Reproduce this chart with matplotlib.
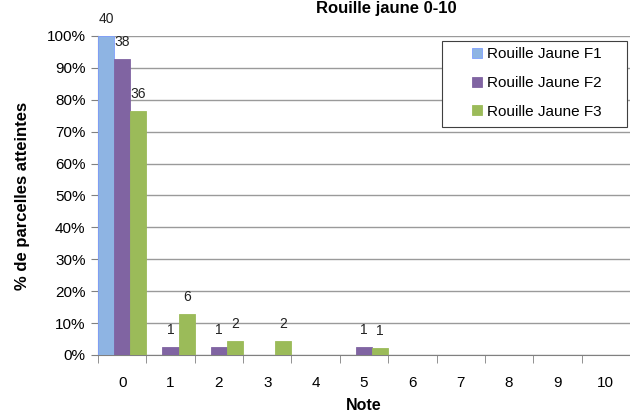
import matplotlib
matplotlib.use("Agg")
import matplotlib.pyplot as plt
from matplotlib.lines import Line2D
from matplotlib.patches import Rectangle
import numpy as np

plt.rcParams.update({
    "font.family": ["Liberation Sans", "DejaVu Sans"],
    "font.size": 10,
})

notes = [str(i) for i in range(11)]
series = ["Rouille Jaune F1", "Rouille Jaune F2", "Rouille Jaune F3"]
colors = ["#8EB4E3", "#8064A2", "#9BBB59"]

# percentage of plots per note, and the count labels shown above bars
pct_f1 = [100, 0, 0, 0, 0, 0, 0, 0, 0, 0, 0]
pct_f2 = [92.7, 2.4, 2.4, 0, 0, 2.4, 0, 0, 0, 0, 0]
pct_f3 = [76.6, 12.8, 4.3, 4.3, 0, 2.1, 0, 0, 0, 0, 0]
cnt_f1 = [40, 0, 0, 0, 0, 0, 0, 0, 0, 0, 0]
cnt_f2 = [38, 1, 1, 0, 0, 1, 0, 0, 0, 0, 0]
cnt_f3 = [36, 6, 2, 2, 0, 1, 0, 0, 0, 0, 0]

fig = plt.figure(figsize=(6.3, 4.16), dpi=100)
ax = fig.add_axes([98 / 630, 1 - 355 / 416, 532 / 630, 319 / 416])

x = np.arange(len(notes))
w = 1 / 3
edges = ["#7F9FFF", colors[1], colors[2]]
for i, (vals, cnts) in enumerate(zip([pct_f1, pct_f2, pct_f3], [cnt_f1, cnt_f2, cnt_f3])):
    xs = x - 0.5 + w * (i + 0.5)
    ax.bar(xs, vals, width=w, color=colors[i], zorder=3,
           edgecolor=edges[i], linewidth=0.6)
    for xi, v, c in zip(xs, vals, cnts):
        if c:
            ax.text(xi, v + 5.3, str(c), ha="center", va="center", fontsize=10,
                    color="#222222", clip_on=False)

ax.set_xlim(-0.5, 10.5)
ax.set_ylim(0, 100)
ax.set_yticks(np.arange(0, 101, 10))
ax.set_yticklabels([f"{t}%" for t in range(0, 101, 10)])
ax.yaxis.grid(True, color="#9a9a9a", lw=1.0, zorder=0)
ax.set_xticks(x)
ax.set_xticklabels(notes)
ax.set_xticks(np.arange(-0.5, 11, 1), minor=True)
ax.tick_params(axis="x", which="major", length=0, pad=15, labelsize=11)
ax.tick_params(axis="x", which="minor", length=6, color="#808080", direction="out")
ax.tick_params(axis="y", length=5, color="#808080", direction="out", labelsize=11, pad=4)
for s in ["top", "right"]:
    ax.spines[s].set_visible(False)
for s in ["left", "bottom"]:
    ax.spines[s].set_color("#808080")

ax.set_xlabel("Note", fontweight="bold", fontsize=11.5, labelpad=6)
ax.set_ylabel("% de parcelles atteintes", fontweight="bold", fontsize=12, labelpad=12)
fig.text(386 / 630, 1 - 9 / 416, "Rouille jaune 0-10", ha="center", va="center",
         fontweight="bold", fontsize=12)

# legend: square markers, box drawn separately for the wide side padding
handles = [Line2D([], [], ls="none", marker="s", markersize=7.5,
                  markerfacecolor=c, markeredgecolor=e, markeredgewidth=0.6)
           for c, e in zip(colors, edges)]
leg = fig.legend(handles, series, loc="center left",
                 bbox_to_anchor=(462 / 630, 1 - 83 / 416), frameon=False,
                 fontsize=11, handlelength=1.0, handletextpad=0.15,
                 labelspacing=0.95, borderpad=0.0)
fig.add_artist(Rectangle((442 / 630, 1 - 127 / 416), 185 / 630, 86 / 416,
                         transform=fig.transFigure, fill=True, facecolor="white",
                         edgecolor="#404040", lw=0.8, zorder=0.5))
leg.set_zorder(5)

fig.savefig("out.png", dpi=100)
